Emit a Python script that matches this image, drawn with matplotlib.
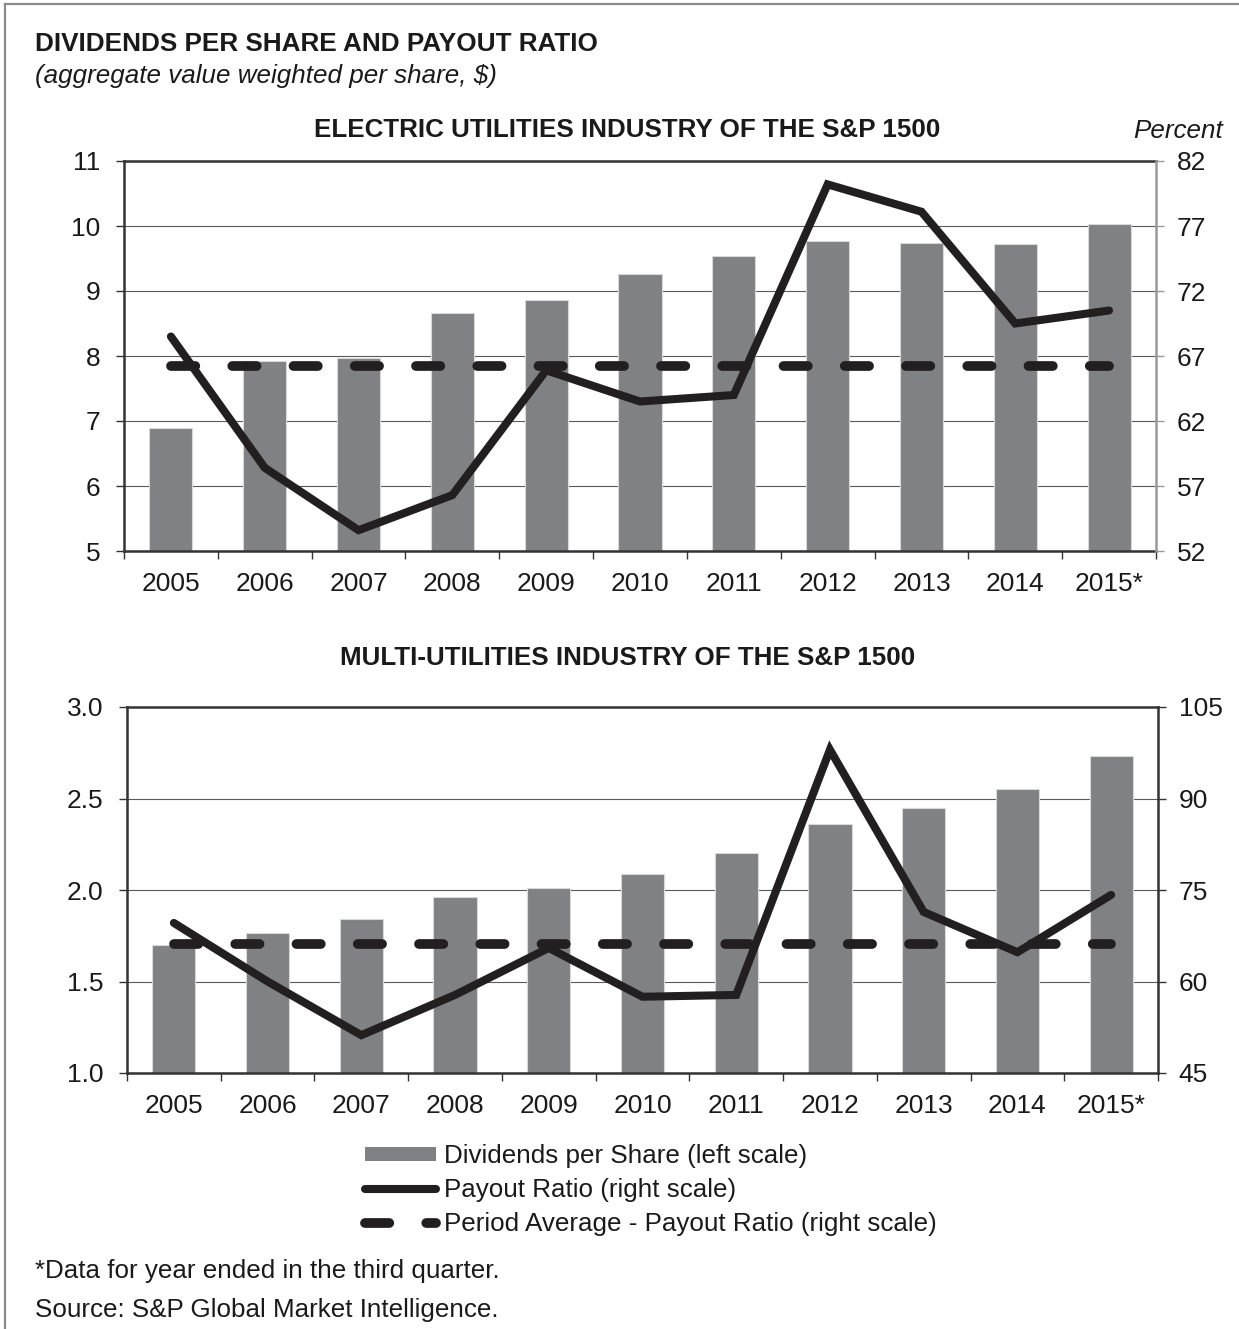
import matplotlib
matplotlib.use("Agg")
import matplotlib.pyplot as plt
from matplotlib.lines import Line2D
from matplotlib.patches import Patch
import numpy as np

plt.rcParams["font.family"] = ["Liberation Sans", "DejaVu Sans"]

# ---- data ----
years = ["2005", "2006", "2007", "2008", "2009", "2010",
         "2011", "2012", "2013", "2014", "2015*"]

elec_dps = [6.89, 7.92, 7.97, 8.66, 8.86, 9.26, 9.54, 9.77, 9.74, 9.72, 10.03]
elec_payout = [68.5, 58.4, 53.6, 56.3, 65.9, 63.5, 64.0, 80.2, 78.1, 69.5, 70.5]
elec_avg = 66.2

multi_dps = [1.70, 1.765, 1.84, 1.96, 2.01, 2.09, 2.20, 2.36, 2.45, 2.55, 2.73]
multi_payout = [69.6, 60.0, 51.2, 57.8, 65.5, 57.5, 57.8, 98.0, 71.4, 64.8, 74.2]
multi_avg = 66.1

elec_left_ticks = [5, 6, 7, 8, 9, 10, 11]
elec_right_ticks = [52, 57, 62, 67, 72, 77, 82]
multi_left_ticks = [1.0, 1.5, 2.0, 2.5, 3.0]
multi_right_ticks = [45, 60, 75, 90, 105]

# ---- styling ----
W, H = 1239, 1329
BAR = "#808184"
INK = "#231f20"
SPINE = "#333333"
GRID = "#5a5a5a"
TXT = "#1a1a1a"
FS_TICK = 19
FS = 18.7
LW_LINE = 5.8
LW_DASH = 7.0
DASH = (0, (2.5, 3.8))

fig = plt.figure(figsize=(W / 100, H / 100), dpi=100)


def fx(px):
    return px / W


def fy(py):
    return 1 - py / H


def panel(rect, dps, payout, avg, lticks, rticks, lfmt, right_spine_color):
    ax = fig.add_axes(rect)
    x = np.arange(len(years))
    ax.bar(x, dps, width=0.46, color=BAR, edgecolor="#d9d9d9",
           linewidth=0.8, zorder=2)
    ax.set_xlim(-0.5, len(years) - 0.5)
    ax.set_ylim(lticks[0], lticks[-1])
    ax.set_yticks(lticks)
    ax.set_yticklabels([lfmt.format(v) for v in lticks])
    ax.yaxis.grid(True, color=GRID, linewidth=0.8, zorder=1)
    ax.set_axisbelow(True)
    ax.set_xticks(x)
    ax.set_xticklabels(years)
    ax.set_xticks(np.arange(-0.5, len(years), 1.0), minor=True)
    ax.tick_params(axis="x", which="major", length=0, pad=15,
                   labelsize=FS_TICK, colors=TXT)
    ax.tick_params(axis="x", which="minor", length=6, width=1.0,
                   direction="out", color=SPINE)
    ax.tick_params(axis="y", length=6, width=1.0, direction="out",
                   color=SPINE, pad=11, labelsize=FS_TICK, labelcolor=TXT)
    for side in ("left", "bottom", "top"):
        ax.spines[side].set_color(SPINE)
        ax.spines[side].set_linewidth(1.8)
    ax.spines["right"].set_visible(False)

    ax2 = ax.twinx()
    ax2.set_ylim(rticks[0], rticks[-1])
    ax2.set_yticks(rticks)
    ax2.plot(x, [avg] * len(x), color=INK, lw=LW_DASH, linestyle=DASH,
             dash_capstyle="round", zorder=3)
    ax2.plot(x, payout, color=INK, lw=LW_LINE, solid_joinstyle="miter",
             solid_capstyle="round", zorder=4)
    ax2.tick_params(axis="y", length=6, width=1.0, direction="out",
                    color=right_spine_color, pad=9, labelsize=FS_TICK,
                    labelcolor=TXT)
    for side in ("left", "bottom", "top"):
        ax2.spines[side].set_visible(False)
    ax2.spines["right"].set_color(right_spine_color)
    ax2.spines["right"].set_linewidth(1.8)
    return ax, ax2


panel([fx(124), fy(551), fx(1156 - 124), (551 - 161) / H],
      elec_dps, elec_payout, elec_avg, elec_left_ticks, elec_right_ticks,
      "{:g}", "#9a9a9a")
panel([fx(127), fy(1073), fx(1158 - 127), (1073 - 707) / H],
      multi_dps, multi_payout, multi_avg, multi_left_ticks, multi_right_ticks,
      "{:.1f}", SPINE)

# ---- titles and notes ----
fig.text(fx(35), fy(51), "DIVIDENDS PER SHARE AND PAYOUT RATIO",
         fontsize=18.8, fontweight="bold", color=TXT, va="baseline")
fig.text(fx(35), fy(83), "(aggregate value weighted per share, $)",
         fontsize=FS, fontstyle="italic", color=TXT, va="baseline")
fig.text(fx(627), fy(137), "ELECTRIC UTILITIES INDUSTRY OF THE S&P 1500",
         fontsize=FS, fontweight="bold", color=TXT,
         ha="center", va="baseline")
fig.text(fx(1223), fy(138), "Percent", fontsize=FS, fontstyle="italic",
         color=TXT, ha="right", va="baseline")
fig.text(fx(628), fy(665), "MULTI-UTILITIES INDUSTRY OF THE S&P 1500",
         fontsize=FS, fontweight="bold", color=TXT,
         ha="center", va="baseline")
fig.text(fx(35), fy(1278), "*Data for year ended in the third quarter.",
         fontsize=FS, color=TXT, va="baseline")
fig.text(fx(35), fy(1317), "Source: S&P Global Market Intelligence.",
         fontsize=FS, color=TXT, va="baseline")

# ---- legend ----
handles = [
    Patch(facecolor=BAR, edgecolor="none"),
    Line2D([], [], color=INK, lw=LW_LINE, solid_capstyle="round"),
    Line2D([], [], color=INK, lw=LW_DASH, linestyle=DASH,
           dash_capstyle="round"),
]
labels = ["Dividends per Share (left scale)",
          "Payout Ratio (right scale)",
          "Period Average - Payout Ratio (right scale)"]
fig.legend(handles, labels, loc="upper left",
           bbox_to_anchor=(fx(365), fy(1144)), frameon=False,
           fontsize=FS, handlelength=2.75, handleheight=0.45,
           handletextpad=0.3, labelspacing=0.38, borderpad=0,
           borderaxespad=0, labelcolor=TXT)

# ---- outer frame (top and left edges) ----
fig.add_artist(Line2D([fx(5), 1], [fy(4), fy(4)], transform=fig.transFigure,
                      color="#8c8c8c", lw=1.6))
fig.add_artist(Line2D([fx(5), fx(5)], [fy(4), 0], transform=fig.transFigure,
                      color="#8c8c8c", lw=1.6))

fig.savefig("out.png", dpi=100, facecolor="white")
